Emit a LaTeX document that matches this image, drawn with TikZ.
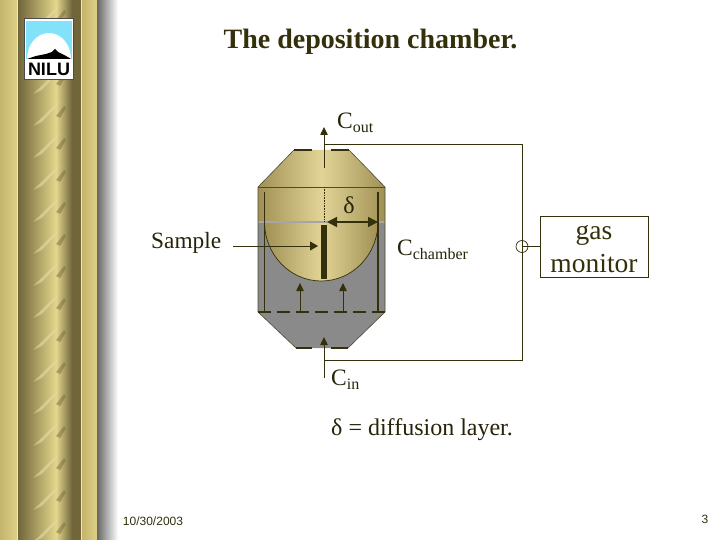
\documentclass[tikz,border=0pt]{standalone}
\usepackage{fontspec}
\setmainfont{Liberation Serif}
\newfontfamily\labelsans{Liberation Sans}
\usepackage{tikz}
\usetikzlibrary{arrows.meta,positioning,calc}
\definecolor{ink}{RGB}{52,48,12}
\definecolor{gold}{RGB}{222,208,135}
\definecolor{goldedge}{RGB}{196,180,108}
\definecolor{golddark}{RGB}{112,102,58}
\definecolor{goldlight}{RGB}{228,214,140}
\definecolor{wallgold}{RGB}{160,144,84}
\definecolor{walllight}{RGB}{226,212,150}
\definecolor{chambergray}{RGB}{138,138,138}
\definecolor{skyblue}{RGB}{130,226,250}
\begin{document}
\begin{tikzpicture}[
  x=1pt, y=-1pt,
  line/.style={draw=ink, line width=0.8pt},
  wall/.style={draw=ink, line width=1.2pt},
  rim/.style={draw=ink!70!chambergray, line width=0.6pt},
  flow/.style={line, -{Triangle[length=8pt,width=7.5pt]}},
  lab/.style={text=ink!75!black, inner sep=0pt}
]
\useasboundingbox (0,0) rectangle (720,540);
\fill[white] (0,0) rectangle (720,540);
% gold strip on the left
\shade[left color=goldedge, right color=gold] (0,0) rectangle (17,540);
\shade[left color=golddark, right color=goldlight] (18,0) rectangle (56,540);
\shade[left color=goldlight, right color=golddark] (56,0) rectangle (72,540);
\fill[golddark] (72,0) rectangle (81,540);
\shade[left color=goldedge, right color=gold] (82,0) rectangle (97,540);
\fill[goldlight!60!white] (17,0) rectangle (18,540);
\fill[goldlight!60!white] (81,0) rectangle (82,540);
\shade[left color=black!60, right color=white] (97,0) rectangle (118,540);
\foreach \y in {-32,0,...,540} {
  \fill[goldlight!70!white, opacity=0.5] (33,\y+30) -- (52,\y+12) -- (60,\y+6) -- (42,\y+26) -- cycle;
  \fill[golddark, opacity=0.45] (56,\y+20) -- (64,\y+10) -- (66,\y+12) -- (60,\y+22) -- cycle;
}
% logo
\fill[white] (24,18) rectangle (74,80);
\draw[black!70] (24.5,18.5) rectangle (73.5,79.5);
\fill[skyblue] (26,21) rectangle (72,59);
\begin{scope}
  \clip (26,21) rectangle (72,59);
  \fill[white] (49,59) ellipse (22 and 26);
\end{scope}
\fill[black] (27,59) -- (36,56) -- (46,54) -- (52,52) -- (55,49) -- (58,52) -- (66,56) -- (71,59) -- cycle;
\node[font=\labelsans\bfseries\fontsize{18}{18}\selectfont, inner sep=0pt] (logo) at (49,69.5) {NILU};
% title
\node[font=\bfseries\fontsize{28}{28}\selectfont, text=ink, inner sep=0pt] (title) at (370.5,42) {The deposition chamber.};
% chamber body
\fill[chambergray] (258,222) -- (258,312) -- (296,348) -- (348,348) -- (385,312) -- (385,222) -- cycle;
\shade[left color=wallgold, right color=wallgold, middle color=walllight]
  (258,222) -- (258,187) -- (294,150) -- (349,150) -- (385,187) -- (385,222) -- cycle;
\shade[left color=wallgold, right color=wallgold, middle color=walllight]
  (264.5,222) arc[start angle=180, end angle=0, x radius=56.75, y radius=59] -- cycle;
\draw[ink, line width=0.7pt] (264.5,222) arc[start angle=180, end angle=0, x radius=56.75, y radius=59];
\draw[black!35, line width=1.2pt] (258,222) -- (385,222);
\draw[rim] (294,150) -- (258,187) -- (258,312) -- (296,348);
\draw[rim] (349,150) -- (385,187) -- (385,312) -- (348,348);
\draw[rim] (258,187) -- (385,187);
\draw[wall] (264.5,192) -- (264.5,312);
\draw[wall] (378,192) -- (378,312);
% inlet and outlet lips
\draw[wall] (294,150) -- (312,150);
\draw[wall] (331,150) -- (349,150);
\draw[wall] (296,348) -- (312,348);
\draw[wall] (331,348) -- (348,348);
% porous floor
\draw[ink, line width=1.3pt, dash pattern=on 13pt off 6pt] (258,312) -- (385,312);
% sample and diffusion layer
\coordinate (barup) at (324,225);
\coordinate (bardown) at (324,279);
\draw[ink, line width=5.5pt] (barup) -- (bardown);
\coordinate (layertop) at (324,187);
\coordinate (layerdown) at (324,222);
\draw[ink, densely dotted, line width=0.6pt] (layertop) -- (layerdown);
\coordinate (layerin) at (327,222);
\coordinate (layerout) at (378,222);
\draw[ink, line width=1.6pt, {Triangle[length=10pt,width=10pt]}-{Triangle[length=10pt,width=10pt]}] (layerin) -- (layerout);
\node[lab, font=\fontsize{24}{24}\selectfont] (delta) at (349,205) {δ};
% labels
\node[lab, font=\fontsize{23.3}{24}\selectfont, anchor=west] (sample) at (151,242.5) {Sample};
\coordinate (sampletip) at (318,246);
\coordinate (sampleout) at (233,246);
\draw[line, -{Triangle[length=8pt,width=9pt]}] (sampleout) -- (sampletip);
\node[lab, font=\fontsize{23.5}{24}\selectfont, anchor=west] (cout) at (337,123) {C\textsubscript{\fontsize{16}{16}\selectfont out}};
\node[lab, font=\fontsize{23.5}{24}\selectfont, anchor=west] (cchamber) at (397,250) {C\textsubscript{\fontsize{16}{16}\selectfont chamber}};
\node[lab, font=\fontsize{23.5}{24}\selectfont, anchor=west] (cin) at (331,380) {C\textsubscript{\fontsize{16}{16}\selectfont in}};
\node[lab, font=\fontsize{24}{24}\selectfont, anchor=west] (legend) at (331,430) {δ = diffusion layer.};
% gas flow
\coordinate (outstart) at (324,168);
\coordinate (outend) at (324,127);
\coordinate (instart) at (324,378);
\coordinate (inend) at (324,337);
\draw[flow] (outstart) -- (outend);
\draw[flow] (instart) -- (inend);
\foreach \x/\name in {300/upa, 343/upb} {
  \coordinate (\name s) at (\x,312);
  \coordinate (\name e) at (\x,283);
  \draw[flow] (\name s) -- (\name e);
}
% monitor loop
\node[draw=ink, line width=0.8pt, minimum width=108pt, minimum height=61pt, inner sep=0pt, align=center,
  font=\fontsize{27.5}{33}\selectfont, text=ink] (monitor) at (594,246.5)
  {\raisebox{-9pt}[0pt][0pt]{gas}\\\raisebox{-9pt}[0pt][0pt]{monitor}};
\node[draw=ink, circle, line width=0.7pt, minimum size=12pt, inner sep=0pt] (tap) at (522,246.5) {};
\coordinate (topline) at (324,144);
\coordinate (botline) at (324,360);
\draw[line] (topline) -| (tap.center);
\draw[line] (botline) -| (tap.center);
\draw[line] (tap.center) -- (monitor.west);
% footer
\node[font=\labelsans\fontsize{12}{12}\selectfont, text=ink, inner sep=0pt] (date) at (153,521) {10/30/2003};
\node[font=\labelsans\fontsize{12}{12}\selectfont, text=ink, inner sep=0pt] (page) at (705,519) {3};
\end{tikzpicture}
\end{document}
